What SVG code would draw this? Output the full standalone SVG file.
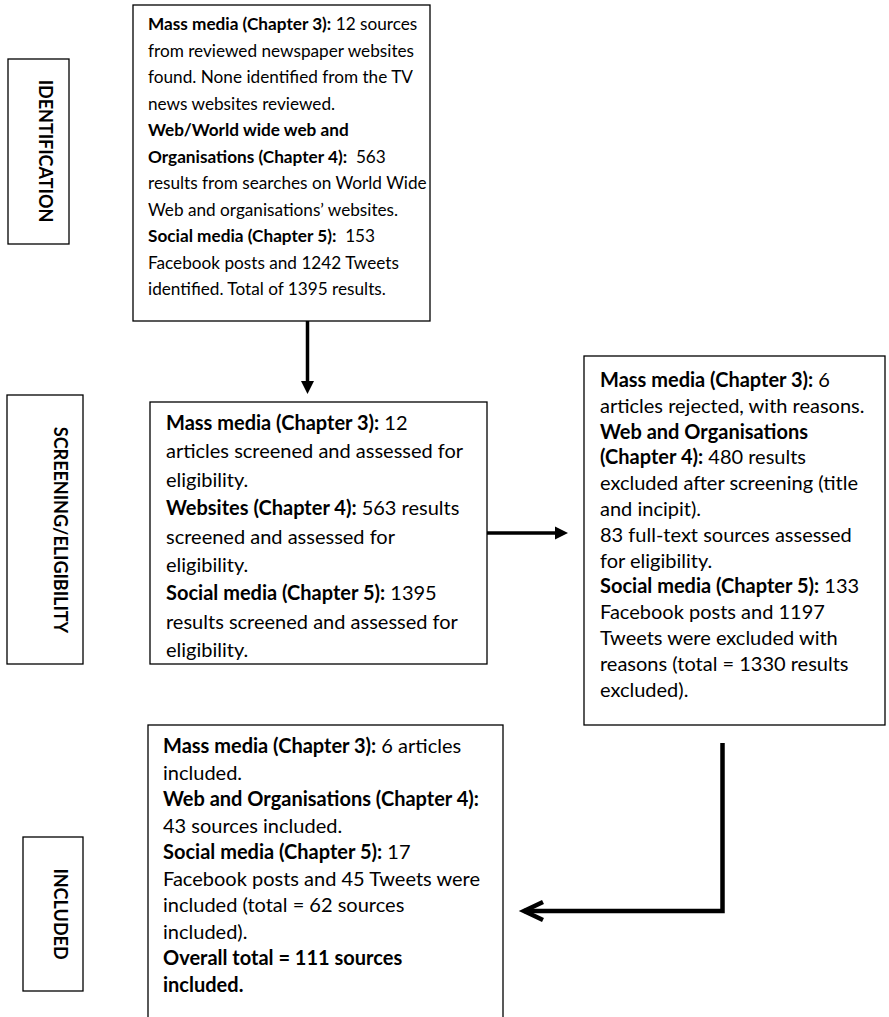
<svg xmlns="http://www.w3.org/2000/svg" width="889" height="1017" viewBox="0 0 889 1017">
<style>
.box{fill:#fff;stroke:#000;stroke-width:1.3}
.t{font-family:Lato,"Liberation Sans",sans-serif;font-size:20px;fill:#000}
.s{font-size:17.2px}
.b{font-weight:bold}
.lbl{font-family:Lato,"Liberation Sans",sans-serif;font-size:18px;font-weight:bold;text-anchor:middle;fill:#000}
.conn{fill:none;stroke:#000}
</style>
<defs>
<marker id="tri" markerUnits="userSpaceOnUse" markerWidth="14" markerHeight="14" refX="7" refY="6.5" orient="auto" overflow="visible">
<path d="M0,0 L13,6.5 L0,13 z" fill="#000"/>
</marker>
<marker id="chev" markerUnits="userSpaceOnUse" markerWidth="20" markerHeight="20" refX="0" refY="0" orient="auto" overflow="visible">
<path d="M-19,-9 L0,0 L-19,9" fill="none" stroke="#000" stroke-width="4.5"/>
</marker>
</defs>
<rect width="889" height="1017" fill="#fff"/>

<g id="label-identification">
<rect class="box" x="8" y="59" width="61" height="185"/>
<text class="lbl" transform="translate(39,151) rotate(90)">IDENTIFICATION</text>
</g>
<g id="label-screening">
<rect class="box" x="7" y="395" width="76" height="269"/>
<text class="lbl" transform="translate(54,530) rotate(90)">SCREENING/ELIGIBILITY</text>
</g>
<g id="label-included">
<rect class="box" x="23" y="837" width="60" height="154"/>
<text class="lbl" transform="translate(54,914) rotate(90)">INCLUDED</text>
</g>

<g id="node-identification">
<rect class="box" x="133" y="5" width="297" height="316"/>
<text class="t s" x="148" y="30">
<tspan class="b">Mass media (Chapter 3):</tspan> 12 sources
<tspan x="148" dy="26.5">from reviewed newspaper websites</tspan>
<tspan x="148" dy="26.5">found. None identified from the TV</tspan>
<tspan x="148" dy="26.5">news websites reviewed.</tspan>
<tspan x="148" dy="26.5" class="b">Web/World wide web and</tspan>
<tspan x="148" dy="26.5"><tspan class="b">Organisations (Chapter 4):</tspan>&#160; 563</tspan>
<tspan x="148" dy="26.5">results from searches on World Wide</tspan>
<tspan x="148" dy="26.5">Web and organisations’ websites.</tspan>
<tspan x="148" dy="26.5"><tspan class="b">Social media (Chapter 5):</tspan>&#160; 153</tspan>
<tspan x="148" dy="26.5">Facebook posts and 1242 Tweets</tspan>
<tspan x="148" dy="26.5">identified. Total of 1395 results.</tspan>
</text>
</g>

<g id="node-screening">
<rect class="box" x="150" y="402" width="337" height="262"/>
<text class="t" x="166" y="430">
<tspan class="b">Mass media (Chapter 3):</tspan> 12
<tspan x="166" dy="28.4">articles screened and assessed for</tspan>
<tspan x="166" dy="28.4">eligibility.</tspan>
<tspan x="166" dy="28.4"><tspan class="b">Websites (Chapter 4):</tspan> 563 results</tspan>
<tspan x="166" dy="28.4">screened and assessed for</tspan>
<tspan x="166" dy="28.4">eligibility.</tspan>
<tspan x="166" dy="28.4"><tspan class="b">Social media (Chapter 5):</tspan> 1395</tspan>
<tspan x="166" dy="28.4">results screened and assessed for</tspan>
<tspan x="166" dy="28.4">eligibility.</tspan>
</text>
</g>

<g id="node-excluded">
<rect class="box" x="584" y="356" width="301" height="369"/>
<text class="t" x="600" y="387">
<tspan class="b">Mass media (Chapter 3):</tspan> 6
<tspan x="600" dy="25.8">articles rejected, with reasons.</tspan>
<tspan x="600" dy="25.8" class="b">Web and Organisations</tspan>
<tspan x="600" dy="25.8"><tspan class="b">(Chapter 4):</tspan> 480 results</tspan>
<tspan x="600" dy="25.8">excluded after screening (title</tspan>
<tspan x="600" dy="25.8">and incipit).</tspan>
<tspan x="600" dy="25.8">83 full-text sources assessed</tspan>
<tspan x="600" dy="25.8">for eligibility.</tspan>
<tspan x="600" dy="25.8"><tspan class="b">Social media (Chapter 5):</tspan> 133</tspan>
<tspan x="600" dy="25.8">Facebook posts and 1197</tspan>
<tspan x="600" dy="25.8">Tweets were excluded with</tspan>
<tspan x="600" dy="25.8">reasons (total = 1330 results</tspan>
<tspan x="600" dy="25.8">excluded).</tspan>
</text>
</g>

<g id="node-included">
<rect class="box" x="148" y="725" width="355" height="320"/>
<text class="t" x="163" y="753">
<tspan class="b">Mass media (Chapter 3):</tspan> 6 articles
<tspan x="163" dy="26.5">included.</tspan>
<tspan x="163" dy="26.5" class="b">Web and Organisations (Chapter 4):</tspan>
<tspan x="163" dy="26.5">43 sources included.</tspan>
<tspan x="163" dy="26.5"><tspan class="b">Social media (Chapter 5):</tspan> 17</tspan>
<tspan x="163" dy="26.5">Facebook posts and 45 Tweets were</tspan>
<tspan x="163" dy="26.5">included (total = 62 sources</tspan>
<tspan x="163" dy="26.5">included).</tspan>
<tspan x="163" dy="26.5" class="b">Overall total = 111 sources</tspan>
<tspan x="163" dy="26.5" class="b">included.</tspan>
</text>
</g>

<g id="connectors">
<line class="conn" x1="307.5" y1="321" x2="307.5" y2="388" stroke-width="3.5" marker-end="url(#tri)"/>
<line class="conn" x1="487" y1="533" x2="562" y2="533" stroke-width="3.5" marker-end="url(#tri)"/>
<path class="conn" d="M722.5,743 V911 H524" stroke-width="4.5" marker-end="url(#chev)"/>
</g>
</svg>
